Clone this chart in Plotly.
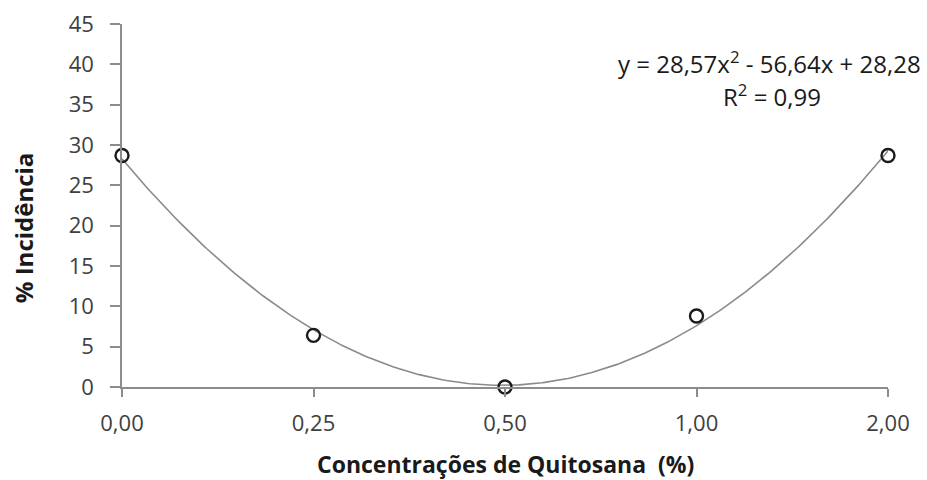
import numpy as np
import plotly.graph_objects as go

# Chitosan concentrations (categorical, evenly spaced on the axis)
concentracoes = ["0,00", "0,25", "0,50", "1,00", "2,00"]
posicoes = [0, 1, 2, 3, 4]
incidencia = [28.7, 6.4, 0.0, 8.8, 28.7]

# Quadratic trendline coefficients (x runs 0, 0.5, 1, 1.5, 2 across the categories)
coef_a, coef_b, coef_c = 28.57, -56.64, 28.28
passo_x = 0.5

y_ticks = [0, 5, 10, 15, 20, 25, 30, 35, 40, 45]

pos_curva = np.linspace(posicoes[0], posicoes[-1], 300)
xt = pos_curva * passo_x
y_curva = coef_a * xt**2 + coef_b * xt + coef_c

font_family = "Open Sans, Lato, sans-serif"
cor_eixo = "#8c8c8c"
cor_texto = "#404040"
cor_titulo = "#1a1a1a"

fig = go.Figure()
fig.add_trace(go.Scatter(
    x=pos_curva, y=y_curva, mode="lines",
    line=dict(color="#8a8a8a", width=1.6),
    hoverinfo="skip", showlegend=False, cliponaxis=False,
))
fig.add_trace(go.Scatter(
    x=posicoes, y=incidencia, mode="markers",
    marker=dict(symbol="circle-open", size=13, color="#1a1a1a",
                line=dict(width=2.4, color="#1a1a1a")),
    showlegend=False, cliponaxis=False,
))

fig.update_layout(
    width=927, height=480,
    margin=dict(l=122, r=39, t=24, b=93),
    paper_bgcolor="white", plot_bgcolor="white",
    font=dict(family=font_family, color=cor_texto, size=22),
    xaxis=dict(
        range=[0, 4], tickmode="array", tickvals=posicoes, ticktext=concentracoes,
        showgrid=False, zeroline=False, showline=True, linecolor=cor_eixo, linewidth=1.5,
        ticks="outside", ticklen=8, tickwidth=1.5, tickcolor=cor_eixo,
        ticklabelstandoff=8, automargin=False,
        tickfont=dict(size=22, color=cor_texto, family=font_family),
    ),
    yaxis=dict(
        range=[0, 45], tickmode="array", tickvals=y_ticks,
        showgrid=False, zeroline=False, showline=True, linecolor=cor_eixo, linewidth=1.5,
        ticks="outside", ticklen=10, tickwidth=1.5, tickcolor=cor_eixo,
        ticklabelstandoff=12, automargin=False,
        tickfont=dict(size=22, color=cor_texto, family=font_family),
    ),
    annotations=[
        dict(text="<b>Concentrações de Quitosana  (%)</b>", xref="paper", yref="paper",
             x=0.5, y=-0.212, xanchor="center", yanchor="middle", showarrow=False,
             font=dict(size=23, color=cor_titulo, family=font_family)),
        dict(text="<b>% Incidência</b>", xref="paper", yref="paper",
             x=-0.129, y=0.438, xanchor="center", yanchor="middle", textangle=-90,
             showarrow=False, font=dict(size=24, color=cor_titulo, family=font_family)),
        dict(text="y = 28,57x<sup>2</sup> - 56,64x + 28,28",
             xref="paper", yref="paper", x=1.0457, y=0.8926, xanchor="right", yanchor="middle",
             showarrow=False, font=dict(size=24, color=cor_titulo, family=font_family)),
        dict(text="R<sup>2</sup> = 0,99",
             xref="paper", yref="paper", x=0.849, y=0.8017, xanchor="center", yanchor="middle",
             showarrow=False, font=dict(size=24, color=cor_titulo, family=font_family)),
    ],
)

fig.write_html("out.html")
